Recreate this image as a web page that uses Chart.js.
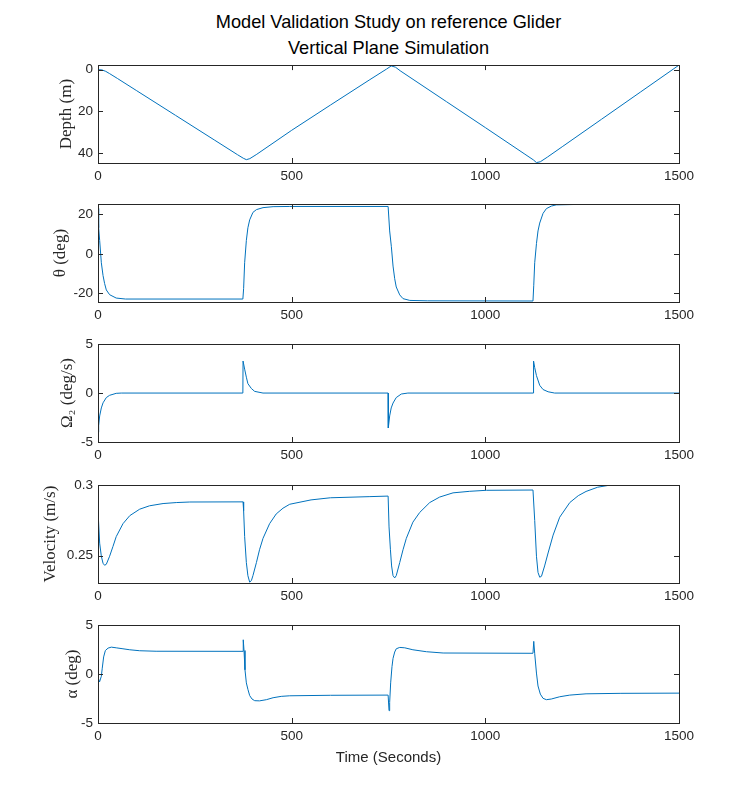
<!DOCTYPE html>
<html lang="en">
<head>
  <meta charset="UTF-8" />
  <title>Model Validation Study on reference Glider</title>
  <script src="https://cdn.jsdelivr.net/npm/chart.js"></script>
  <style>
    body { margin: 0; background: #fff; }
    #fig { position: relative; width: 750px; height: 812px; background: #fff; }
    #fig canvas { position: absolute; left: 0; }
    #title {
      position: absolute; left: 98px; width: 581px; top: 9px;
      text-align: center; font: 18.2px "Liberation Sans", Arial, sans-serif;
      line-height: 26px; color: #000;
    }
  </style>
</head>
<body>
  <div id="fig">
    <div id="title">Model Validation Study on reference Glider<br>Vertical Plane Simulation</div>
    <canvas id="depthChart" width="750" height="140" style="top:52px"></canvas>
    <canvas id="thetaChart" width="750" height="140" style="top:191px"></canvas>
    <canvas id="omegaChart" width="750" height="140" style="top:331px"></canvas>
    <canvas id="velChart" width="750" height="140" style="top:472px"></canvas>
    <canvas id="alphaChart" width="750" height="170" style="top:612px"></canvas>
  </div>

  <script>
    // time ticks shared by all panels
    const timeTicks = [0, 500, 1000, 1500];

    // depth (m)
    const depthT =   [0, 10, 20, 30, 50, 100, 200, 300, 360, 375, 383, 392, 410, 500, 600, 700, 745, 757, 768, 780, 900, 1000, 1100, 1124, 1132, 1142, 1160, 1200, 1300, 1400, 1500];
    const depthVal = [0, 0.1, 0.8, 1.9, 4.2, 10.1, 21.9, 33.7, 40.8, 42.5, 43.2, 42.7, 40.6, 29.1, 17.0, 5.0, -0.3, -1.8, -1.2, 0.5, 15.4, 27.8, 40.3, 43.3, 44.6, 44.2, 42.0, 36.8, 23.8, 10.8, -2.2];
    const depthTicks = [0, 20, 40];

    // pitch angle theta (deg)
    const thetaT =   [0, 1.7, 4.3, 8.6, 13, 17, 21.5, 30, 47, 71, 374, 376, 378.6, 383, 387, 391.6, 400, 409, 426, 452, 495, 749, 753, 757.4, 761.7, 766, 770, 779, 787.5, 805, 850, 1123, 1125, 1127.5, 1132, 1136, 1140.4, 1149, 1157.6, 1170.5, 1183, 1230, 1500];
    const thetaVal = [23, 13.2, 6.8, -4.5, -11, -15, -18.3, -20.7, -22.4, -22.9, -22.9, -17.5, -4.5, 6.8, 13.2, 17.2, 21, 22.4, 23.4, 23.9, 24.0, 24.0, 11.6, 3.6, -6.2, -12.6, -16.8, -20.8, -22.7, -23.6, -23.8, -23.9, -15.9, -4.5, 5.2, 11.6, 15.6, 20.5, 22.9, 24.2, 24.8, 25.0, 25.0];
    const thetaTicks = [-20, 0, 20];

    // pitch rate Omega2 (deg/s)
    const omegaT =   [0, 1.7, 4.3, 8.6, 13, 21.5, 30, 47, 60, 374, 374.5, 378.6, 383, 387, 396, 404.5, 426, 749, 749.5, 753, 757, 761.7, 770, 783, 800, 1124, 1124.5, 1127.5, 1132, 1140.4, 1149, 1162, 1179, 1500];
    const omegaVal = [-4.0, -3.33, -2.34, -1.52, -1.0, -0.46, -0.23, -0.03, 0, 0, 3.27, 2.44, 1.62, 0.96, 0.46, 0.17, 0, 0, -3.56, -2.34, -1.52, -1.02, -0.46, -0.1, 0, 0, 3.27, 2.6, 1.78, 0.79, 0.36, 0.13, 0, 0];
    const omegaTicks = [-5, 0, 5];

    // velocity (m/s)
    const velT =   [0, 4.3, 8.6, 13, 17, 21.5, 30, 38.7, 47, 64.5, 82, 107.6, 133, 168, 202, 237, 374.4, 376, 378.6, 383, 387, 391.6, 396, 400, 409, 417, 426, 443, 460, 477.6, 495, 550, 600, 700, 749, 751.4, 755, 758, 761.7, 766, 770, 779, 787.5, 796, 813, 830.6, 856.4, 882, 916.6, 959.7, 1002.7, 1123, 1127.5, 1132, 1136, 1140.4, 1145, 1153, 1162, 1175, 1192, 1218, 1240, 1260, 1290, 1320, 1500];
    const velVal = [0.2818, 0.2588, 0.2495, 0.2445, 0.2431, 0.2438, 0.2495, 0.2565, 0.2634, 0.2726, 0.2783, 0.2829, 0.2853, 0.2869, 0.2876, 0.288, 0.2881, 0.2818, 0.2634, 0.245, 0.2357, 0.2311, 0.2322, 0.2357, 0.245, 0.2541, 0.2622, 0.2726, 0.2795, 0.2836, 0.2864, 0.2895, 0.291, 0.2918, 0.2922, 0.2703, 0.2541, 0.2426, 0.2357, 0.2341, 0.2357, 0.245, 0.2541, 0.2622, 0.2737, 0.2806, 0.2876, 0.2915, 0.2945, 0.2956, 0.2963, 0.2965, 0.2749, 0.2495, 0.238, 0.2346, 0.2353, 0.2426, 0.2518, 0.2645, 0.2772, 0.2876, 0.2925, 0.2955, 0.2985, 0.2999, 0.3];
    const velTicks = [0.25, 0.3];

    // angle of attack alpha (deg)
    const alphaT =   [0, 0.5, 4, 8.6, 11, 14.6, 19, 26, 34.4, 47, 64.5, 82, 107.6, 150, 374.4, 375, 377, 379.5, 383, 387, 391.6, 397.6, 404.5, 417, 434.6, 452, 473, 495, 600, 749, 751.4, 753, 755.6, 759, 761.7, 766, 770, 779, 792, 813, 848, 891, 1123, 1125, 1127.5, 1132, 1136, 1142, 1149, 1157.6, 1170.5, 1192, 1218, 1260, 1350, 1500];
    const alphaVal = [2.1, -0.4, -0.8, -0.23, 0.6, 1.75, 2.4, 2.65, 2.75, 2.68, 2.58, 2.48, 2.38, 2.33, 2.32, 3.5, 2.4, 0.43, -0.9, -1.56, -2.2, -2.55, -2.72, -2.74, -2.62, -2.42, -2.28, -2.22, -2.17, -2.15, -3.74, -2.9, -0.9, 0.76, 1.6, 2.25, 2.58, 2.72, 2.68, 2.48, 2.28, 2.15, 2.12, 3.34, 2.08, 0.1, -1.22, -2.05, -2.48, -2.62, -2.55, -2.32, -2.15, -2.02, -1.97, -1.95];
    const alphaTicks = [-5, 0, 5];

    Chart.defaults.font.family = '"Liberation Sans", Arial, sans-serif';
    Chart.defaults.color = "#262626";

    // matlab-like box with ticks pointing inward
    const boxTicks = {
      id: "boxTicks",
      afterDatasetsDraw(chart) {
        const { ctx, chartArea: a, scales: { x, y } } = chart;
        const len = 5;
        ctx.save();
        ctx.strokeStyle = "#262626";
        ctx.lineWidth = 1;
        ctx.beginPath();
        x.ticks.forEach(t => {
          const px = Math.round(x.getPixelForValue(t.value)) + 0.5;
          ctx.moveTo(px, a.bottom); ctx.lineTo(px, a.bottom - len);
          ctx.moveTo(px, a.top); ctx.lineTo(px, a.top + len);
        });
        y.ticks.forEach(t => {
          const py = Math.round(y.getPixelForValue(t.value)) + 0.5;
          ctx.moveTo(a.left, py); ctx.lineTo(a.left + len, py);
          ctx.moveTo(a.right, py); ctx.lineTo(a.right - len, py);
        });
        ctx.stroke();
        ctx.strokeRect(Math.round(a.left) + 0.5, Math.round(a.top) + 0.5,
                       Math.round(a.width), Math.round(a.height));
        ctx.restore();
      }
    };

    // labelX: where the centre of the y label sits, like matlab puts it
    function makePanel(id, times, values, yTicks, yMin, yMax, yLabel, labelX, opts = {}) {
      const last = !!opts.xTitle;
      return new Chart(document.getElementById(id), {
        type: "line",
        data: {
          datasets: [{
            data: times.map((t, i) => ({ x: t, y: values[i] })),
            borderColor: "#0072BD",
            borderWidth: 1,
            pointRadius: 0,
            tension: 0
          }]
        },
        options: {
          responsive: false,
          animation: false,
          events: [],
          layout: { padding: { left: 0, right: 71, top: 10, bottom: 3 } },
          plugins: { legend: { display: false }, tooltip: { enabled: false } },
          scales: {
            x: {
              type: "linear",
              min: 0,
              max: 1500,
              afterBuildTicks: s => { s.ticks = timeTicks.map(v => ({ value: v })); },
              afterFit: s => { s.height = last ? 56 : 26; },
              grid: { display: false, drawTicks: false },
              border: { display: false },
              ticks: { font: { size: 13.5 }, padding: 5, maxRotation: 0, callback: v => String(v) },
              title: {
                display: last,
                text: opts.xTitle || "",
                font: { size: 15 },
                padding: { top: 0, bottom: 12 }
              }
            },
            y: {
              type: "linear",
              min: yMin,
              max: yMax,
              reverse: !!opts.reverse,
              afterBuildTicks: s => { s.ticks = yTicks.map(v => ({ value: v })); },
              afterFit: s => { s.width = 98; },
              grid: { display: false, drawTicks: false },
              border: { display: false },
              ticks: { font: { size: 13.5 }, padding: 5, callback: v => String(v) },
              title: {
                display: true,
                text: yLabel,
                font: { family: '"Liberation Serif", "Times New Roman", serif', size: 17 },
                padding: { top: labelX - 10, bottom: 0 }
              }
            }
          }
        },
        plugins: [boxTicks]
      });
    }

    makePanel("depthChart", depthT, depthVal, depthTicks, -2.2, 44.8, "Depth (m)", 66, { reverse: true });
    makePanel("thetaChart", thetaT, thetaVal, thetaTicks, -24.4, 25.2, "θ (deg)", 60);
    makePanel("omegaChart", omegaT, omegaVal, omegaTicks, -5, 5, "Ω₂ (deg/s)", 67);
    makePanel("velChart", velT, velVal, velTicks, 0.2305, 0.3, "Velocity (m/s)", 50);
    makePanel("alphaChart", alphaT, alphaVal, alphaTicks, -5, 5, "α (deg)", 72, { xTitle: "Time (Seconds)" });
  </script>
</body>
</html>
